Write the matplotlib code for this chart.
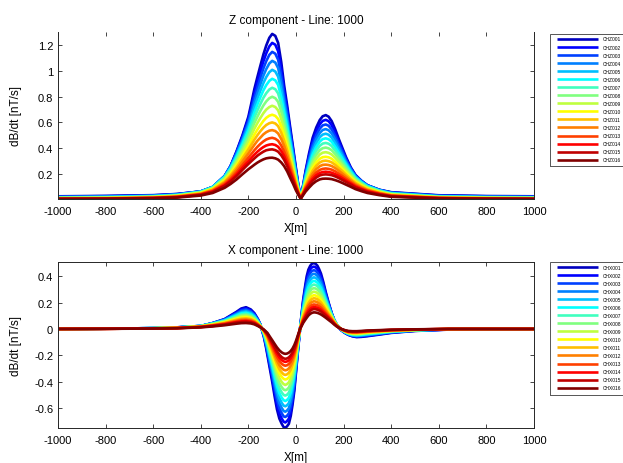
import numpy as np
import matplotlib
matplotlib.use('Agg')
import matplotlib.pyplot as plt
from matplotlib.patches import Rectangle

plt.rcParams['font.family'] = ['Liberation Sans', 'DejaVu Sans']
plt.rcParams['axes.unicode_minus'] = False

# ---------------- data ----------------
CHANNELS_Z = ['CHZ%03d' % i for i in range(1, 17)]
CHANNELS_X = ['CHX%03d' % i for i in range(1, 17)]

X_TICKS = [-1000, -800, -600, -400, -200, 0, 200, 400, 600, 800, 1000]
X_TICK_LABELS = ['-1000', '-800', '-600', '-400', '-200', '0', '200', '400', '600', '800', '1000']
Z_YTICKS = [0.2, 0.4, 0.6, 0.8, 1.0, 1.2]
Z_YTICK_LABELS = ['0.2', '0.4', '0.6', '0.8', '1', '1.2']
X_YTICKS = [-0.6, -0.4, -0.2, 0.0, 0.2, 0.4]
X_YTICK_LABELS = ['-0.6', '-0.4', '-0.2', '0', '0.2', '0.4']

# Z component: station positions and, per position, the 16 channel values (CH001..CH016)
Z_POS = [-1000, -800, -600, -500, -400, -350, -300, -250, -200, -175, -150, -125, -100,
         -75, -50, -25, 0, 20, 40, 70, 100, 125, 150, 180, 210, 250, 300, 400, 600, 800, 1000]
Z_ROWS = [
    [.024, .022, .020, .018, .016, .015, .013, .011, .010, .009, .007, .006, .005, .004, .004, .003],
    [.027, .025, .023, .021, .019, .017, .015, .013, .012, .010, .009, .008, .007, .006, .005, .004],
    [.033, .031, .029, .028, .026, .024, .022, .020, .019, .017, .015, .014, .012, .011, .010, .008],
    [.042, .041, .039, .037, .036, .034, .032, .030, .028, .026, .024, .022, .020, .018, .017, .014],
    [.062, .062, .062, .061, .060, .059, .057, .055, .052, .049, .046, .043, .040, .037, .035, .030],
    [.096, .097, .097, .097, .096, .095, .092, .089, .085, .081, .076, .072, .066, .062, .058, .050],
    [.181, .182, .182, .181, .178, .175, .170, .163, .156, .147, .139, .130, .120, .111, .105, .090],
    [.374, .369, .362, .354, .343, .331, .317, .302, .285, .266, .249, .231, .211, .194, .181, .155],
    [.645, .628, .609, .588, .565, .540, .513, .483, .452, .418, .389, .358, .326, .298, .276, .235],
    [.860, .827, .792, .755, .718, .678, .637, .595, .551, .505, .465, .425, .383, .348, .319, .270],
    [1.040, .993, .945, .895, .846, .795, .742, .689, .634, .578, .531, .481, .432, .391, .357, .300],
    [1.200, 1.139, 1.078, 1.016, .954, .891, .828, .764, .700, .636, .580, .524, .467, .420, .383, .320],
    [1.290, 1.220, 1.150, 1.080, 1.010, .940, .870, .800, .730, .660, .600, .540, .480, .430, .390, .325],
    [1.220, 1.155, 1.089, 1.024, .957, .892, .826, .760, .694, .627, .571, .514, .457, .410, .372, .310],
    [.890, .851, .811, .769, .727, .683, .638, .593, .547, .499, .458, .417, .373, .338, .309, .260],
    [.570, .546, .520, .495, .468, .440, .413, .384, .355, .324, .297, .271, .243, .220, .202, .170],
    [.240, .229, .218, .207, .196, .184, .172, .160, .147, .135, .124, .112, .100, .091, .084, .069],
    [.020, .019, .018, .017, .016, .015, .013, .012, .011, .010, .009, .008, .007, .007, .006, .005],
    [.221, .210, .199, .188, .177, .165, .154, .142, .130, .119, .108, .098, .087, .079, .072, .060],
    [.480, .454, .428, .402, .376, .350, .324, .298, .272, .246, .223, .201, .179, .160, .145, .121],
    [.619, .586, .552, .518, .485, .451, .418, .384, .350, .317, .288, .259, .230, .206, .187, .156],
    [.657, .620, .584, .548, .512, .476, .440, .404, .368, .332, .302, .271, .241, .216, .195, .162],
    [.610, .578, .546, .514, .481, .449, .416, .383, .350, .317, .289, .260, .232, .208, .189, .158],
    [.470, .449, .429, .407, .386, .363, .340, .316, .292, .266, .244, .223, .200, .182, .166, .140],
    [.330, .320, .309, .297, .285, .272, .257, .242, .225, .208, .193, .177, .161, .147, .136, .115],
    [.190, .187, .184, .180, .175, .169, .162, .155, .146, .136, .128, .118, .109, .100, .093, .080],
    [.110, .110, .109, .107, .105, .102, .098, .094, .089, .083, .079, .073, .068, .063, .058, .050],
    [.056, .054, .052, .051, .049, .046, .044, .042, .039, .036, .033, .031, .028, .026, .024, .020],
    [.032, .030, .028, .026, .024, .022, .021, .019, .017, .015, .014, .012, .011, .010, .009, .007],
    [.026, .024, .022, .020, .018, .016, .015, .013, .012, .010, .009, .008, .007, .006, .005, .004],
    [.024, .022, .020, .018, .016, .015, .013, .011, .010, .009, .007, .006, .005, .004, .004, .003],
]
# additional Z readings between the stations above
Z_POS_FINE = [-275, -225, -187, -162, -137, -112, -87, -62, -37, -12, 10, 30, 55, 85,
              112, 137, 165, 195, 230, 275, 350]
Z_ROWS_FINE = [
    [.260, .260, .258, .254, .249, .242, .234, .224, .212, .200, .188, .175, .161, .149, .140, .120],
    [.500, .490, .479, .465, .449, .432, .412, .391, .367, .341, .319, .295, .269, .247, .230, .196],
    [.755, .730, .703, .674, .643, .611, .577, .540, .502, .463, .428, .393, .355, .324, .299, .253],
    [.955, .915, .873, .831, .786, .741, .694, .646, .596, .545, .501, .457, .410, .372, .341, .287],
    [1.130, 1.076, 1.021, .965, .907, .850, .792, .732, .672, .612, .559, .507, .452, .408, .372, .312],
    [1.260, 1.193, 1.127, 1.060, .992, .924, .857, .789, .720, .653, .594, .536, .476, .427, .388, .324],
    [1.275, 1.206, 1.136, 1.067, .997, .928, .859, .789, .720, .651, .592, .533, .473, .424, .384, .320],
    [1.070, 1.017, .963, .908, .853, .797, .742, .685, .627, .570, .520, .471, .420, .378, .344, .288],
    [.730, .699, .667, .634, .600, .565, .529, .492, .454, .415, .382, .347, .312, .282, .259, .218],
    [.400, .383, .366, .348, .329, .310, .291, .270, .249, .228, .210, .191, .171, .155, .142, .120],
    [.110, .106, .102, .097, .092, .087, .082, .077, .071, .065, .060, .055, .050, .045, .041, .035],
    [.110, .105, .101, .096, .090, .085, .080, .074, .069, .063, .058, .053, .047, .043, .039, .033],
    [.360, .341, .322, .302, .283, .264, .244, .225, .205, .186, .169, .152, .135, .121, .110, .092],
    [.560, .530, .500, .470, .439, .409, .379, .348, .318, .288, .262, .236, .209, .188, .170, .142],
    [.648, .612, .577, .541, .505, .470, .435, .399, .364, .329, .299, .269, .238, .213, .193, .161],
    [.645, .610, .574, .539, .504, .469, .434, .398, .363, .328, .298, .268, .238, .213, .193, .161],
    [.545, .519, .492, .465, .437, .409, .381, .353, .324, .294, .269, .244, .218, .196, .179, .150],
    [.400, .385, .370, .353, .336, .318, .299, .279, .259, .238, .220, .201, .181, .165, .151, .128],
    [.250, .245, .240, .233, .225, .216, .206, .195, .183, .171, .159, .147, .134, .124, .115, .098],
    [.145, .144, .142, .140, .136, .132, .127, .122, .115, .108, .101, .094, .086, .080, .075, .064],
    [.075, .074, .074, .072, .070, .068, .066, .063, .059, .056, .052, .049, .045, .041, .039, .033],
]

# X component
X_POS = [-1000, -800, -600, -500, -400, -300, -250, -210, -175, -150, -135, -120, -100, -80,
         -60, -45, -30, -15, 0, 17, 30, 45, 60, 75, 90, 105, 125, 150, 170, 190, 220, 255,
         300, 400, 500, 640, 800, 1000]
X_ROWS = [
    [0.0] * 16,
    [.002, .002, .002, .002, .002, .002, .002, .002, .002, .002, .002, .001, .001, .001, .001, .001],
    [.006, .006, .006, .006, .006, .006, .006, .005, .005, .005, .005, .004, .004, .004, .004, .003],
    [.012, .012, .012, .011, .011, .011, .010, .010, .009, .009, .008, .008, .007, .006, .006, .005],
    [.022, .022, .023, .023, .023, .022, .022, .021, .020, .019, .018, .017, .016, .015, .014, .012],
    [.075, .073, .071, .069, .066, .063, .060, .057, .053, .050, .046, .043, .039, .035, .033, .028],
    [.130, .125, .119, .114, .108, .102, .095, .089, .082, .076, .070, .063, .057, .052, .048, .040],
    [.165, .157, .149, .140, .132, .123, .115, .106, .098, .089, .081, .073, .066, .059, .054, .045],
    [.120, .115, .109, .104, .098, .092, .086, .080, .074, .067, .062, .056, .050, .046, .042, .035],
    [.035, .034, .033, .032, .030, .029, .027, .026, .024, .022, .020, .019, .017, .016, .014, .012],
    [-.060, -.054, -.049, -.044, -.039, -.034, -.030, -.026, -.022, -.018, -.016, -.013, -.010, -.008, -.007, -.005],
    [-.200, -.184, -.169, -.154, -.140, -.126, -.113, -.101, -.089, -.078, -.068, -.059, -.050, -.043, -.038, -.030],
    [-.400, -.374, -.349, -.324, -.300, -.276, -.253, -.230, -.207, -.186, -.167, -.148, -.130, -.115, -.103, -.085],
    [-.610, -.574, -.537, -.502, -.466, -.432, -.397, -.363, -.329, -.296, -.267, -.239, -.211, -.188, -.169, -.140],
    [-.720, -.680, -.640, -.600, -.561, -.522, -.482, -.442, -.403, -.364, -.330, -.297, -.264, -.236, -.214, -.178],
    [-.750, -.710, -.668, -.628, -.587, -.547, -.506, -.465, -.425, -.384, -.349, -.314, -.279, -.250, -.227, -.189],
    [-.720, -.681, -.641, -.602, -.563, -.523, -.484, -.445, -.406, -.367, -.333, -.300, -.266, -.238, -.216, -.180],
    [-.580, -.550, -.519, -.488, -.457, -.426, -.395, -.364, -.333, -.302, -.274, -.248, -.220, -.197, -.179, -.150],
    [-.330, -.314, -.297, -.281, -.264, -.247, -.230, -.212, -.195, -.177, -.162, -.147, -.131, -.118, -.107, -.090],
    [0.0] * 16,
    [.220, .206, .191, .177, .164, .150, .137, .125, .112, .100, .090, .080, .070, .062, .055, .045],
    [.400, .374, .349, .324, .300, .276, .253, .230, .207, .186, .167, .148, .130, .115, .103, .085],
    [.480, .453, .425, .398, .371, .344, .317, .291, .264, .238, .216, .194, .171, .153, .138, .115],
    [.500, .473, .446, .419, .392, .365, .337, .310, .283, .256, .233, .210, .186, .167, .151, .126],
    [.480, .454, .428, .403, .377, .351, .325, .299, .273, .247, .225, .202, .180, .161, .146, .122],
    [.420, .398, .376, .354, .332, .310, .288, .265, .243, .220, .201, .181, .161, .145, .132, .110],
    [.280, .269, .256, .244, .231, .218, .204, .190, .176, .161, .148, .135, .121, .110, .101, .085],
    [.120, .118, .116, .113, .110, .107, .102, .097, .092, .085, .080, .074, .068, .063, .058, .050],
    [.035, .036, .036, .037, .037, .036, .036, .034, .033, .031, .030, .028, .026, .024, .023, .020],
    [-.010, -.009, -.008, -.007, -.006, -.005, -.004, -.003, -.003, -.002, -.002, -.001, -.001, 0.0, 0.0, 0.0],
    [-.045, -.044, -.042, -.040, -.038, -.036, -.034, -.032, -.030, -.028, -.026, -.024, -.021, -.019, -.018, -.015],
    [-.062, -.059, -.056, -.053, -.050, -.046, -.043, -.040, -.037, -.033, -.030, -.028, -.025, -.022, -.020, -.017],
    [-.055, -.052, -.048, -.045, -.042, -.038, -.035, -.032, -.029, -.026, -.023, -.021, -.018, -.016, -.015, -.012],
    [-.030, -.028, -.026, -.024, -.022, -.020, -.019, -.017, -.015, -.014, -.012, -.011, -.009, -.008, -.007, -.006],
    [-.015, -.014, -.013, -.012, -.011, -.010, -.009, -.008, -.008, -.007, -.006, -.005, -.005, -.004, -.004, -.003],
    [-.005, -.004, -.004, -.003, -.003, -.002, -.002, -.002, -.001, -.001, -.001, -.001, 0.0, 0.0, 0.0, 0.0],
    [0.0] * 16,
    [0.0] * 16,
]
# additional X readings between the stations above
X_POS_FINE = [-350, -230, -190, -160, -127, -110, -90, -70, -52, -38, -22, -7, 8, 24, 38,
              52, 67, 82, 97, 115, 137, 160, 180, 205, 237, 275, 350]
X_ROWS_FINE = [
    [.045, .044, .044, .043, .042, .040, .039, .037, .035, .032, .030, .028, .026, .024, .022, .019],
    [.155, .148, .141, .133, .125, .118, .110, .102, .094, .085, .078, .071, .064, .057, .052, .044],
    [.148, .141, .134, .127, .120, .112, .105, .097, .089, .082, .075, .068, .061, .055, .050, .042],
    [.075, .072, .068, .065, .061, .058, .054, .050, .046, .042, .039, .035, .032, .029, .026, .022],
    [-.130, -.119, -.109, -.099, -.090, -.081, -.072, -.064, -.056, -.049, -.042, -.037, -.031, -.026, -.023, -.018],
    [-.300, -.279, -.259, -.240, -.220, -.202, -.184, -.166, -.149, -.132, -.118, -.104, -.091, -.080, -.071, -.058],
    [-.510, -.478, -.447, -.417, -.386, -.357, -.328, -.299, -.270, -.242, -.218, -.195, -.171, -.152, -.137, -.113],
    [-.680, -.641, -.602, -.563, -.524, -.487, -.449, -.411, -.373, -.337, -.305, -.274, -.242, -.216, -.195, -.162],
    [-.745, -.704, -.664, -.623, -.582, -.541, -.501, -.460, -.419, -.379, -.345, -.310, -.275, -.246, -.223, -.186],
    [-.740, -.700, -.660, -.620, -.580, -.540, -.500, -.460, -.419, -.380, -.345, -.311, -.276, -.247, -.224, -.187],
    [-.660, -.624, -.589, -.553, -.517, -.482, -.446, -.410, -.374, -.339, -.308, -.277, -.246, -.221, -.200, -.167],
    [-.470, -.445, -.421, -.396, -.371, -.346, -.321, -.296, -.270, -.245, -.223, -.201, -.179, -.161, -.146, -.122],
    [-.170, -.162, -.154, -.145, -.137, -.128, -.119, -.110, -.101, -.092, -.084, -.076, -.068, -.061, -.056, -.047],
    [.120, .112, .104, .096, .089, .081, .074, .067, .060, .054, .048, .043, .037, .033, .029, .024],
    [.320, .299, .279, .259, .239, .220, .201, .183, .165, .147, .132, .117, .103, .091, .081, .067],
    [.450, .423, .396, .369, .343, .317, .292, .266, .241, .217, .195, .175, .154, .137, .123, .102],
    [.495, .468, .440, .413, .385, .358, .331, .304, .277, .250, .227, .204, .181, .162, .147, .122],
    [.495, .468, .442, .415, .388, .361, .334, .307, .280, .254, .231, .208, .184, .165, .150, .125],
    [.455, .431, .407, .383, .358, .334, .310, .285, .260, .236, .215, .193, .172, .154, .140, .117],
    [.355, .338, .321, .303, .285, .267, .249, .230, .211, .192, .176, .159, .142, .128, .117, .098],
    [.200, .194, .187, .179, .171, .163, .154, .144, .134, .124, .115, .105, .095, .087, .080, .068],
    [.070, .070, .070, .070, .068, .067, .065, .062, .059, .056, .053, .049, .045, .042, .040, .034],
    [.010, .011, .012, .013, .013, .014, .014, .014, .013, .013, .013, .012, .011, .011, .010, .009],
    [-.030, -.029, -.027, -.026, -.025, -.023, -.022, -.020, -.019, -.017, -.016, -.014, -.013, -.012, -.011, -.009],
    [-.056, -.054, -.051, -.049, -.046, -.044, -.041, -.038, -.035, -.032, -.030, -.027, -.024, -.022, -.020, -.017],
    [-.060, -.057, -.053, -.050, -.047, -.044, -.040, -.037, -.034, -.031, -.028, -.025, -.022, -.020, -.018, -.015],
    [-.043, -.040, -.037, -.035, -.032, -.030, -.027, -.025, -.022, -.020, -.018, -.016, -.014, -.012, -.011, -.009],
]

# ---------------- style ----------------
JET16 = [(0, 0, .75), (0, 0, 1), (0, .25, 1), (0, .5, 1), (0, .75, 1), (0, 1, 1),
         (.25, 1, .75), (.5, 1, .5), (.75, 1, .25), (1, 1, 0), (1, .75, 0), (1, .5, 0),
         (1, .25, 0), (1, 0, 0), (.75, 0, 0), (.5, 0, 0)]
W, H = 623, 464
SPINE = '#262626'
LW = 1.9

fig = plt.figure(figsize=(W / 100, H / 100), dpi=100)


def table(pos, rows, pos_fine, rows_fine):
    p = np.array(list(pos) + list(pos_fine), dtype=float)
    v = np.array(list(rows) + list(rows_fine), dtype=float)
    order = np.argsort(p, kind='stable')
    return p[order], v[order]


def px_axes(left, top, right, bottom):
    return fig.add_axes([left / W, 1 - bottom / H, (right - left) / W, (bottom - top) / H])


def style_axes(ax, yticks, ylabels, title, hide_top):
    ax.set_xlim(-1000, 1000)
    ax.set_xticks(X_TICKS)
    ax.set_xticklabels(X_TICK_LABELS)
    ax.set_yticks(yticks)
    ax.set_yticklabels(ylabels)
    ax.tick_params(direction='in', top=True, right=True, length=3, width=0.6,
                   color=SPINE, labelsize=8, labelcolor='black')
    ax.tick_params(axis='x', pad=5)
    ax.tick_params(axis='y', pad=3.5)
    for s in ax.spines.values():
        s.set_color(SPINE)
        s.set_linewidth(0.7)
    if hide_top:
        ax.spines['top'].set_visible(False)
    ax.set_title(title, fontsize=8.5, pad=6.5)
    ax.set_xlabel('X[m]', fontsize=8.5)
    ax.xaxis.set_label_coords(0.5, -0.138)
    ax.set_ylabel('dB/dt [nT/s]', fontsize=8.5)
    ax.yaxis.set_label_coords(-0.076, 0.5)


def add_legend(ax, top_px, bottom_px):
    leg = ax.legend(loc='upper left', bbox_to_anchor=(557 / W, 1 - (top_px + 2.5) / H),
                    bbox_transform=fig.transFigure, frameon=False, fontsize=3.5,
                    handlelength=8.4, handletextpad=1.0, labelspacing=0.63,
                    borderpad=0, borderaxespad=0)
    fig.patches.append(Rectangle((549.5 / W, 1 - bottom_px / H), 200 / W,
                                 (bottom_px - top_px) / H, transform=fig.transFigure,
                                 fill=False, ec='#555555', lw=0.7))


# ---- Z component ----
axz = px_axes(58, 33, 534, 200)
zpos, zarr = table(Z_POS, Z_ROWS, Z_POS_FINE, Z_ROWS_FINE)
for k in range(16):
    axz.plot(zpos, zarr[:, k], color=JET16[k], lw=LW, label=CHANNELS_Z[k],
             solid_joinstyle='round', solid_capstyle='butt')
axz.set_ylim(0.003, 1.305)
style_axes(axz, Z_YTICKS, Z_YTICK_LABELS, 'Z component - Line: 1000', True)
add_legend(axz, 35, 167)

# ---- X component ----
axx = px_axes(58, 263.3, 534, 429)
xpos, xarr = table(X_POS, X_ROWS, X_POS_FINE, X_ROWS_FINE)
for k in range(16):
    axx.plot(xpos, xarr[:, k], color=JET16[k], lw=LW, label=CHANNELS_X[k],
             solid_joinstyle='round', solid_capstyle='butt')
axx.set_ylim(-0.752, 0.506)
style_axes(axx, X_YTICKS, X_YTICK_LABELS, 'X component - Line: 1000', False)
add_legend(axx, 263, 396)

fig.savefig('out.png', dpi=100)
